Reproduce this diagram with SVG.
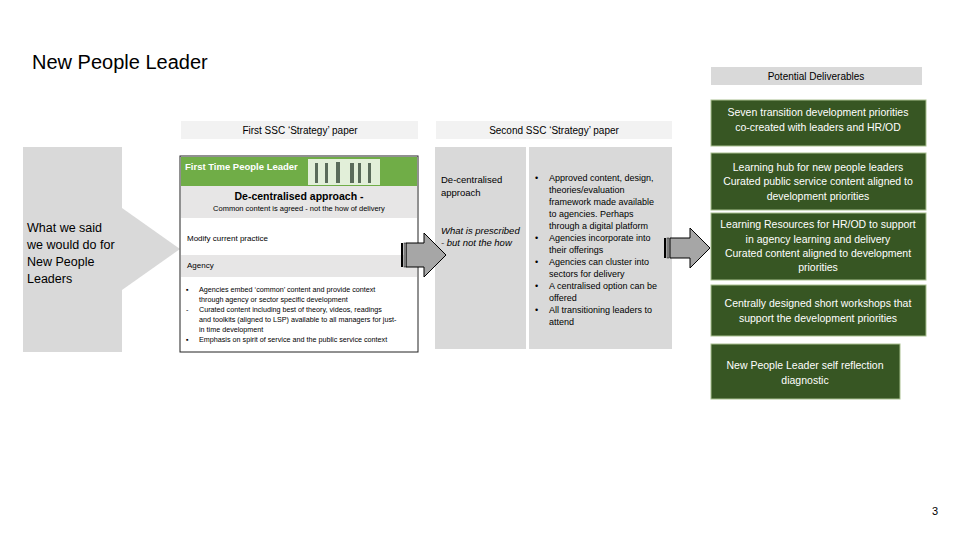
<svg xmlns="http://www.w3.org/2000/svg" width="960" height="540" viewBox="0 0 960 540">
<style>
text{font-family:"Liberation Sans","Open Sans",sans-serif;fill:#000}
.s{font-size:10px}
.g{fill:#375623;stroke:#a9c08f;stroke-width:1}
.w{fill:#fff;font-size:10.5px;text-anchor:middle}
.c{text-anchor:middle}
.ar{fill:#a6a6a6;stroke:#000;stroke-width:1}
</style>
<rect width="960" height="540" fill="#fff"/>
<text x="32" y="69" font-size="20">New People Leader</text>
<g id="hdr-deliverables"><rect x="711" y="67" width="211" height="18" fill="#d9d9d9"/><text x="816" y="80" class="s c">Potential Deliverables</text></g>
<g id="hdr-first"><rect x="181" y="121" width="237" height="18" fill="#f2f2f2"/><text x="300" y="134" class="s c">First SSC ‘Strategy’ paper</text></g>
<g id="hdr-second"><rect x="436" y="121" width="236" height="18" fill="#f2f2f2"/><text x="554" y="134" class="s c">Second SSC ‘Strategy’ paper</text></g>
<g id="said">
<rect x="23" y="147" width="99" height="205" fill="#d9d9d9"/>
<polygon points="122,208 180,249 122,290" fill="#d9d9d9"/>
<text font-size="12.5"><tspan x="27" y="232">What we said</tspan><tspan x="27" y="249">we would do for</tspan><tspan x="27" y="266">New People</tspan><tspan x="27" y="283">Leaders</tspan></text>
</g>
<g id="first-paper">
<rect x="180" y="156" width="238" height="196" fill="#fff" stroke="#222"/>
<rect x="181" y="157" width="236" height="29" fill="#70ad47"/>
<rect x="308" y="159" width="72" height="26" fill="#e2efd9"/>
<g fill="#5a6b5a"><rect x="315" y="163" width="3" height="20"/><rect x="325" y="163" width="3" height="20"/><rect x="336" y="162" width="4" height="21"/><rect x="350" y="163" width="4" height="20"/><rect x="358" y="163" width="3" height="20"/><rect x="368" y="163" width="3" height="20"/></g>
<text x="185" y="170" font-size="9.5" fill="#fff" style="fill:#fff;font-weight:bold">First Time People Leader</text>
<rect x="181" y="186" width="236" height="32" fill="#e7e6e6"/>
<text x="299" y="200" class="c" font-size="10.5" font-weight="bold">De-centralised approach -</text>
<text x="299" y="211" class="c" font-size="7.5">Common content  is agreed - not the how of delivery</text>
<text x="187" y="241" font-size="8">Modify current practice</text>
<rect x="181" y="255" width="236" height="22" fill="#e7e6e6"/>
<text x="187" y="268" font-size="8">Agency</text>
<text font-size="7.2"><tspan x="186" y="292">▪</tspan><tspan x="199" y="292">Agencies embed ‘common’ content and provide context</tspan><tspan x="199" y="302">through agency or sector specific development</tspan><tspan x="186" y="312">-</tspan><tspan x="199" y="312">Curated content including best of theory, videos, readings</tspan><tspan x="199" y="322">and toolkits (aligned to LSP) available to all managers for just-</tspan><tspan x="199" y="332">in time development</tspan><tspan x="186" y="342">▪</tspan><tspan x="199" y="342">Emphasis on spirit of service and the public service context</tspan></text>
</g>
<g id="second-paper">
<rect x="435" y="147" width="91" height="202" fill="#d9d9d9"/>
<rect x="529" y="147" width="143" height="202" fill="#d9d9d9"/>
<text font-size="9.5"><tspan x="441" y="183">De-centralised</tspan><tspan x="441" y="196">approach</tspan></text>
<text font-size="9.5" font-style="italic"><tspan x="441" y="234">What is prescribed</tspan><tspan x="441" y="246">- but not the how</tspan></text>
<text font-size="9"><tspan x="535" y="181">•</tspan><tspan x="549" y="181">Approved content, design,</tspan><tspan x="549" y="193">theories/evaluation</tspan><tspan x="549" y="205">framework made available</tspan><tspan x="549" y="217">to agencies.  Perhaps</tspan><tspan x="549" y="229">through a digital platform</tspan><tspan x="535" y="241">•</tspan><tspan x="549" y="241">Agencies incorporate into</tspan><tspan x="549" y="253">their offerings</tspan><tspan x="535" y="265">•</tspan><tspan x="549" y="265">Agencies can cluster into</tspan><tspan x="549" y="277">sectors for delivery</tspan><tspan x="535" y="289">•</tspan><tspan x="549" y="289">A centralised option can be</tspan><tspan x="549" y="301">offered</tspan><tspan x="535" y="313">•</tspan><tspan x="549" y="313">All transitioning leaders to</tspan><tspan x="549" y="325">attend</tspan></text>
</g>
<g id="connectors">
<polygon class="ar" points="406,243 424,243 424,233 446,255 424,277 424,267 406,267"/>
<rect x="401" y="243" width="2" height="24" fill="#000"/><rect x="404" y="243" width="2" height="24" fill="#a6a6a6" stroke="#000" stroke-width="0.5"/>
<polygon class="ar" points="670,238 690,238 690,228 710,248 690,268 690,258 670,258"/>
<rect x="664" y="238" width="2" height="20" fill="#000"/><rect x="667" y="238" width="2" height="20" fill="#a6a6a6" stroke="#000" stroke-width="0.5"/>
</g>
<g id="d1"><rect class="g" x="711" y="100" width="215" height="46"/><text class="w"><tspan x="818" y="116">Seven transition development priorities</tspan><tspan x="818" y="131">co-created with leaders and HR/OD</tspan></text></g>
<g id="d2"><rect class="g" x="711" y="153" width="215" height="57"/><text class="w"><tspan x="818" y="171">Learning hub for new people leaders</tspan><tspan x="818" y="185">Curated public service content aligned to</tspan><tspan x="818" y="200">development priorities</tspan></text></g>
<g id="d3"><rect class="g" x="711" y="213" width="215" height="67"/><text class="w"><tspan x="818" y="228">Learning Resources for HR/OD to support</tspan><tspan x="818" y="243">in agency learning and delivery</tspan><tspan x="818" y="257">Curated content aligned to development</tspan><tspan x="818" y="271">priorities</tspan></text></g>
<g id="d4"><rect class="g" x="711" y="285" width="215" height="51"/><text class="w"><tspan x="818" y="307">Centrally designed short workshops that</tspan><tspan x="818" y="322">support the development priorities</tspan></text></g>
<g id="d5"><rect class="g" x="711" y="344" width="189" height="55"/><text class="w"><tspan x="805" y="369">New People Leader self reflection</tspan><tspan x="805" y="384">diagnostic</tspan></text></g>
<text x="932" y="515" font-size="11">3</text>
</svg>
